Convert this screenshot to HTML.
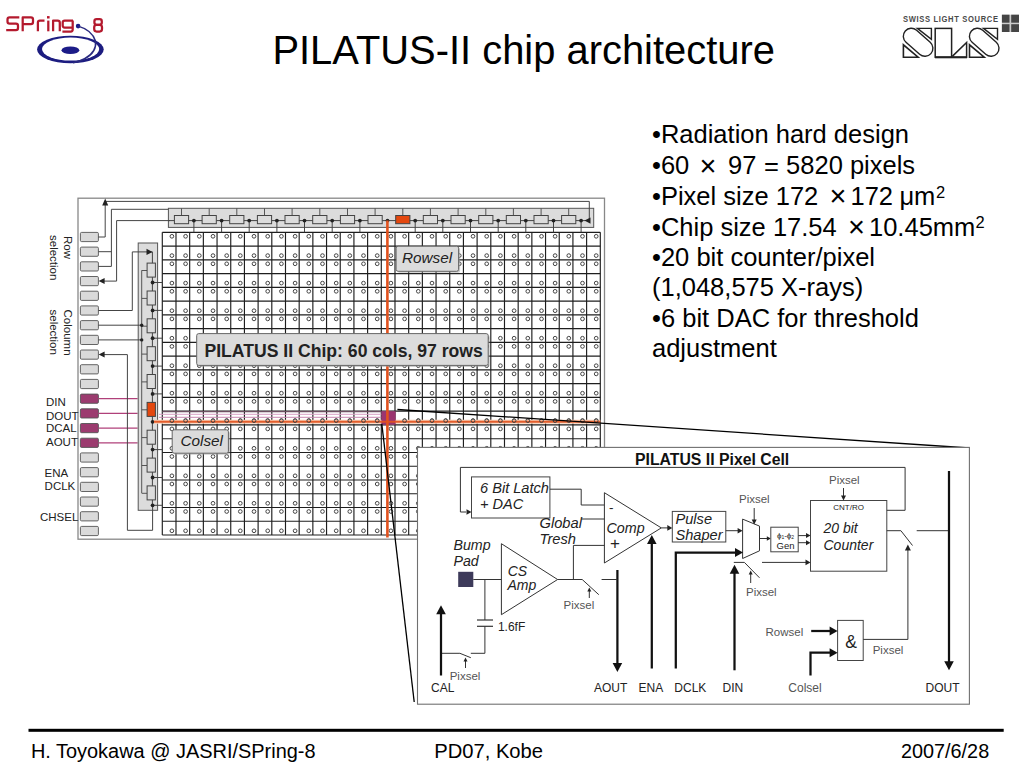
<!DOCTYPE html>
<html><head><meta charset="utf-8"><style>
html,body{margin:0;padding:0;background:#fff;}
body{width:1024px;height:768px;overflow:hidden;position:relative;}
svg{position:absolute;left:0;top:0;}
text{font-family:'Liberation Sans',sans-serif;}
</style></head><body>
<svg width="1024" height="768" viewBox="0 0 1024 768">

<!-- SPring-8 -->
<g fill="none" stroke="#B41A2E" stroke-width="2.25" stroke-linejoin="round" stroke-linecap="butt">
<path d="M19.3,17.4 H9.6 Q7.5,17.4 7.5,19.5 V21.6 Q7.5,23.7 9.6,23.7 H15.9 Q18,23.7 18,25.8 V27.9 Q18,30 15.9,30 H6.2"/>
<path d="M22.7,31.3 V17.4 H30.9 Q33,17.4 33,19.5 V21.9 Q33,24 30.9,24 H22.7"/>
<path d="M37.9,31.3 V22.6 Q37.9,20.6 39.9,20.6 H44.5"/>
<path d="M48.3,31.3 V20.6"/>
<path d="M53.1,31.3 V20.6 H57.7 Q59.8,20.6 59.8,22.7 V31.3"/>
<path d="M73,20.6 H64.7 Q62.7,20.6 62.7,22.6 V25.6 Q62.7,27.6 64.7,27.6 H72.9 M72.7,20.6 V29.6 Q72.7,31.6 70.7,31.6 H62.4"/>
<rect x="94.4" y="19.2" width="7.4" height="5.6" rx="2.2"/>
<rect x="94.2" y="24.8" width="7.8" height="6.7" rx="2.4"/>
</g>
<rect x="47" y="16.1" width="2.6" height="2.4" fill="#B8162C"/>
<ellipse cx="70.4" cy="49.5" rx="33.3" ry="13.7" fill="#1C1C80"/>
<ellipse cx="70.6" cy="49.1" rx="28.6" ry="11.5" fill="#fff"/>
<ellipse cx="70.4" cy="50.3" rx="8.9" ry="3.8" fill="#1C1C88"/>
<circle cx="78.1" cy="26.1" r="2.3" fill="#1C1C88"/>
<path d="M78.1,26.1 Q92,30 95.5,41 Q97,52 85,58.5 Q80,61.5 73,62.8" fill="none" stroke="#2A2A80" stroke-width="1.5"/>
<!-- SLS -->
<text transform="translate(903,22) scale(1,1.3)" x="0" y="0" font-size="7.6" font-weight="bold" fill="#4a4a4a" textLength="95" lengthAdjust="spacing">SWISS LIGHT SOURCE</text>
<rect x="1001.9" y="14.7" width="17.1" height="17.3" fill="#ccc"/>
<rect x="1001.9" y="14.7" width="7.6" height="8" fill="#454545"/>
<rect x="1011.2" y="14.7" width="7.8" height="8" fill="#454545"/>
<rect x="1001.9" y="24.2" width="7.6" height="7.8" fill="#454545"/>
<rect x="1011.2" y="24.2" width="7.8" height="7.8" fill="#454545"/>
<g id="slsS">
<line x1="911.3" y1="36.3" x2="924.9" y2="48.3" stroke="#222" stroke-width="17.4" stroke-linecap="round"/>
<line x1="911.3" y1="36.3" x2="924.9" y2="48.3" stroke="#fff" stroke-width="14.6" stroke-linecap="round"/>
<path d="M917.4,28.4 H931.4 V39.4 Z" fill="none" stroke="#222" stroke-width="1.4" stroke-linejoin="miter"/>
<path d="M903.4,44.8 V57.2 H918.1 Z" fill="none" stroke="#222" stroke-width="1.6"/>
</g>
<use href="#slsS" transform="translate(66.1,0)"/>
<rect x="935.2" y="28.4" width="16.4" height="28.8" fill="none" stroke="#222" stroke-width="1.5"/>
<path d="M952.3,56.4 L966.6,42.5 V57.2 H952.3" fill="none" stroke="#222" stroke-width="1.5"/>
<line x1="935" y1="57.3" x2="967" y2="57.3" stroke="#222" stroke-width="2"/>

<text x="272.4" y="63.7" font-size="39.9" fill="#000" font-weight="normal" font-style="normal" text-anchor="start" >PILATUS-II chip architecture</text>
<text x="652" y="143.4" font-size="25.5" fill="#000" font-weight="normal" font-style="normal" text-anchor="start" >•Radiation hard design</text>
<text x="652" y="174.3" font-size="25.5">•60<tspan x="699.4" font-size="29" dy="1.5">×</tspan><tspan x="728.1" dy="-1.5">97</tspan><tspan x="764.1" dy="0.8">=</tspan><tspan x="786.1" dy="-0.8">5820 pixels</tspan></text>
<text x="652" y="204.9" font-size="25.5">•Pixel size 172<tspan x="829.4" font-size="29" dy="1.5">×</tspan><tspan x="850.5" dy="-1.5">172</tspan><tspan x="899.4">μ</tspan><tspan x="914">m</tspan><tspan x="935.9" y="197.6" font-size="16.5">2</tspan></text>
<text x="652" y="235.5" font-size="25.5">•Chip size 17.54<tspan x="847.9" font-size="29" dy="1.5">×</tspan><tspan x="869" dy="-1.5">10.45mm</tspan><tspan x="975.4" y="228.4" font-size="16.5">2</tspan></text>
<text x="652" y="265.8" font-size="25.5" fill="#000" font-weight="normal" font-style="normal" text-anchor="start" >•20 bit counter/pixel</text>
<text x="652" y="296.4" font-size="25.5" fill="#000" font-weight="normal" font-style="normal" text-anchor="start" >(1,048,575 X-rays)</text>
<text x="652" y="327" font-size="25.5" fill="#000" font-weight="normal" font-style="normal" text-anchor="start" >•6 bit DAC for threshold</text>
<text x="652" y="357.2" font-size="25.5" fill="#000" font-weight="normal" font-style="normal" text-anchor="start" >adjustment</text>
<rect x="28.5" y="728.8" width="975.2" height="3" fill="#000"/>
<text x="30.9" y="758.4" font-size="19.95" fill="#000" font-weight="normal" font-style="normal" text-anchor="start" >H. Toyokawa @ JASRI/SPring-8</text>
<text x="434.2" y="758.2" font-size="20.2" fill="#000" font-weight="normal" font-style="normal" text-anchor="start" >PD07, Kobe</text>
<text x="900.9" y="758.2" font-size="19.85" fill="#000" font-weight="normal" font-style="normal" text-anchor="start" >2007/6/28</text>
<rect x="78" y="198.2" width="526.5" height="341" fill="none" stroke="#888" stroke-width="1.3"/>
<rect x="162.3" y="232.3" width="437.99999999999994" height="302.71999999999997" fill="#fff"/>
<g fill="none" stroke="#444" stroke-width="1.0"><circle cx="171.9" cy="236.3" r="1.85"/><circle cx="185.6" cy="236.3" r="1.85"/><circle cx="199.3" cy="236.3" r="1.85"/><circle cx="213.0" cy="236.3" r="1.85"/><circle cx="226.7" cy="236.3" r="1.85"/><circle cx="240.3" cy="236.3" r="1.85"/><circle cx="254.0" cy="236.3" r="1.85"/><circle cx="267.7" cy="236.3" r="1.85"/><circle cx="281.4" cy="236.3" r="1.85"/><circle cx="295.1" cy="236.3" r="1.85"/><circle cx="308.8" cy="236.3" r="1.85"/><circle cx="322.5" cy="236.3" r="1.85"/><circle cx="336.2" cy="236.3" r="1.85"/><circle cx="349.8" cy="236.3" r="1.85"/><circle cx="363.5" cy="236.3" r="1.85"/><circle cx="377.2" cy="236.3" r="1.85"/><circle cx="390.9" cy="236.3" r="1.85"/><circle cx="404.6" cy="236.3" r="1.85"/><circle cx="418.3" cy="236.3" r="1.85"/><circle cx="432.0" cy="236.3" r="1.85"/><circle cx="445.7" cy="236.3" r="1.85"/><circle cx="459.3" cy="236.3" r="1.85"/><circle cx="473.0" cy="236.3" r="1.85"/><circle cx="486.7" cy="236.3" r="1.85"/><circle cx="500.4" cy="236.3" r="1.85"/><circle cx="514.1" cy="236.3" r="1.85"/><circle cx="527.8" cy="236.3" r="1.85"/><circle cx="541.5" cy="236.3" r="1.85"/><circle cx="555.1" cy="236.3" r="1.85"/><circle cx="568.8" cy="236.3" r="1.85"/><circle cx="582.5" cy="236.3" r="1.85"/><circle cx="596.2" cy="236.3" r="1.85"/><circle cx="171.9" cy="255.6" r="1.85"/><circle cx="185.6" cy="255.6" r="1.85"/><circle cx="199.3" cy="255.6" r="1.85"/><circle cx="213.0" cy="255.6" r="1.85"/><circle cx="226.7" cy="255.6" r="1.85"/><circle cx="240.3" cy="255.6" r="1.85"/><circle cx="254.0" cy="255.6" r="1.85"/><circle cx="267.7" cy="255.6" r="1.85"/><circle cx="281.4" cy="255.6" r="1.85"/><circle cx="295.1" cy="255.6" r="1.85"/><circle cx="308.8" cy="255.6" r="1.85"/><circle cx="322.5" cy="255.6" r="1.85"/><circle cx="336.2" cy="255.6" r="1.85"/><circle cx="349.8" cy="255.6" r="1.85"/><circle cx="363.5" cy="255.6" r="1.85"/><circle cx="377.2" cy="255.6" r="1.85"/><circle cx="390.9" cy="255.6" r="1.85"/><circle cx="404.6" cy="255.6" r="1.85"/><circle cx="418.3" cy="255.6" r="1.85"/><circle cx="432.0" cy="255.6" r="1.85"/><circle cx="445.7" cy="255.6" r="1.85"/><circle cx="459.3" cy="255.6" r="1.85"/><circle cx="473.0" cy="255.6" r="1.85"/><circle cx="486.7" cy="255.6" r="1.85"/><circle cx="500.4" cy="255.6" r="1.85"/><circle cx="514.1" cy="255.6" r="1.85"/><circle cx="527.8" cy="255.6" r="1.85"/><circle cx="541.5" cy="255.6" r="1.85"/><circle cx="555.1" cy="255.6" r="1.85"/><circle cx="568.8" cy="255.6" r="1.85"/><circle cx="582.5" cy="255.6" r="1.85"/><circle cx="596.2" cy="255.6" r="1.85"/><circle cx="171.9" cy="263.8" r="1.85"/><circle cx="185.6" cy="263.8" r="1.85"/><circle cx="199.3" cy="263.8" r="1.85"/><circle cx="213.0" cy="263.8" r="1.85"/><circle cx="226.7" cy="263.8" r="1.85"/><circle cx="240.3" cy="263.8" r="1.85"/><circle cx="254.0" cy="263.8" r="1.85"/><circle cx="267.7" cy="263.8" r="1.85"/><circle cx="281.4" cy="263.8" r="1.85"/><circle cx="295.1" cy="263.8" r="1.85"/><circle cx="308.8" cy="263.8" r="1.85"/><circle cx="322.5" cy="263.8" r="1.85"/><circle cx="336.2" cy="263.8" r="1.85"/><circle cx="349.8" cy="263.8" r="1.85"/><circle cx="363.5" cy="263.8" r="1.85"/><circle cx="377.2" cy="263.8" r="1.85"/><circle cx="390.9" cy="263.8" r="1.85"/><circle cx="404.6" cy="263.8" r="1.85"/><circle cx="418.3" cy="263.8" r="1.85"/><circle cx="432.0" cy="263.8" r="1.85"/><circle cx="445.7" cy="263.8" r="1.85"/><circle cx="459.3" cy="263.8" r="1.85"/><circle cx="473.0" cy="263.8" r="1.85"/><circle cx="486.7" cy="263.8" r="1.85"/><circle cx="500.4" cy="263.8" r="1.85"/><circle cx="514.1" cy="263.8" r="1.85"/><circle cx="527.8" cy="263.8" r="1.85"/><circle cx="541.5" cy="263.8" r="1.85"/><circle cx="555.1" cy="263.8" r="1.85"/><circle cx="568.8" cy="263.8" r="1.85"/><circle cx="582.5" cy="263.8" r="1.85"/><circle cx="596.2" cy="263.8" r="1.85"/><circle cx="171.9" cy="283.1" r="1.85"/><circle cx="185.6" cy="283.1" r="1.85"/><circle cx="199.3" cy="283.1" r="1.85"/><circle cx="213.0" cy="283.1" r="1.85"/><circle cx="226.7" cy="283.1" r="1.85"/><circle cx="240.3" cy="283.1" r="1.85"/><circle cx="254.0" cy="283.1" r="1.85"/><circle cx="267.7" cy="283.1" r="1.85"/><circle cx="281.4" cy="283.1" r="1.85"/><circle cx="295.1" cy="283.1" r="1.85"/><circle cx="308.8" cy="283.1" r="1.85"/><circle cx="322.5" cy="283.1" r="1.85"/><circle cx="336.2" cy="283.1" r="1.85"/><circle cx="349.8" cy="283.1" r="1.85"/><circle cx="363.5" cy="283.1" r="1.85"/><circle cx="377.2" cy="283.1" r="1.85"/><circle cx="390.9" cy="283.1" r="1.85"/><circle cx="404.6" cy="283.1" r="1.85"/><circle cx="418.3" cy="283.1" r="1.85"/><circle cx="432.0" cy="283.1" r="1.85"/><circle cx="445.7" cy="283.1" r="1.85"/><circle cx="459.3" cy="283.1" r="1.85"/><circle cx="473.0" cy="283.1" r="1.85"/><circle cx="486.7" cy="283.1" r="1.85"/><circle cx="500.4" cy="283.1" r="1.85"/><circle cx="514.1" cy="283.1" r="1.85"/><circle cx="527.8" cy="283.1" r="1.85"/><circle cx="541.5" cy="283.1" r="1.85"/><circle cx="555.1" cy="283.1" r="1.85"/><circle cx="568.8" cy="283.1" r="1.85"/><circle cx="582.5" cy="283.1" r="1.85"/><circle cx="596.2" cy="283.1" r="1.85"/><circle cx="171.9" cy="291.3" r="1.85"/><circle cx="185.6" cy="291.3" r="1.85"/><circle cx="199.3" cy="291.3" r="1.85"/><circle cx="213.0" cy="291.3" r="1.85"/><circle cx="226.7" cy="291.3" r="1.85"/><circle cx="240.3" cy="291.3" r="1.85"/><circle cx="254.0" cy="291.3" r="1.85"/><circle cx="267.7" cy="291.3" r="1.85"/><circle cx="281.4" cy="291.3" r="1.85"/><circle cx="295.1" cy="291.3" r="1.85"/><circle cx="308.8" cy="291.3" r="1.85"/><circle cx="322.5" cy="291.3" r="1.85"/><circle cx="336.2" cy="291.3" r="1.85"/><circle cx="349.8" cy="291.3" r="1.85"/><circle cx="363.5" cy="291.3" r="1.85"/><circle cx="377.2" cy="291.3" r="1.85"/><circle cx="390.9" cy="291.3" r="1.85"/><circle cx="404.6" cy="291.3" r="1.85"/><circle cx="418.3" cy="291.3" r="1.85"/><circle cx="432.0" cy="291.3" r="1.85"/><circle cx="445.7" cy="291.3" r="1.85"/><circle cx="459.3" cy="291.3" r="1.85"/><circle cx="473.0" cy="291.3" r="1.85"/><circle cx="486.7" cy="291.3" r="1.85"/><circle cx="500.4" cy="291.3" r="1.85"/><circle cx="514.1" cy="291.3" r="1.85"/><circle cx="527.8" cy="291.3" r="1.85"/><circle cx="541.5" cy="291.3" r="1.85"/><circle cx="555.1" cy="291.3" r="1.85"/><circle cx="568.8" cy="291.3" r="1.85"/><circle cx="582.5" cy="291.3" r="1.85"/><circle cx="596.2" cy="291.3" r="1.85"/><circle cx="171.9" cy="310.7" r="1.85"/><circle cx="185.6" cy="310.7" r="1.85"/><circle cx="199.3" cy="310.7" r="1.85"/><circle cx="213.0" cy="310.7" r="1.85"/><circle cx="226.7" cy="310.7" r="1.85"/><circle cx="240.3" cy="310.7" r="1.85"/><circle cx="254.0" cy="310.7" r="1.85"/><circle cx="267.7" cy="310.7" r="1.85"/><circle cx="281.4" cy="310.7" r="1.85"/><circle cx="295.1" cy="310.7" r="1.85"/><circle cx="308.8" cy="310.7" r="1.85"/><circle cx="322.5" cy="310.7" r="1.85"/><circle cx="336.2" cy="310.7" r="1.85"/><circle cx="349.8" cy="310.7" r="1.85"/><circle cx="363.5" cy="310.7" r="1.85"/><circle cx="377.2" cy="310.7" r="1.85"/><circle cx="390.9" cy="310.7" r="1.85"/><circle cx="404.6" cy="310.7" r="1.85"/><circle cx="418.3" cy="310.7" r="1.85"/><circle cx="432.0" cy="310.7" r="1.85"/><circle cx="445.7" cy="310.7" r="1.85"/><circle cx="459.3" cy="310.7" r="1.85"/><circle cx="473.0" cy="310.7" r="1.85"/><circle cx="486.7" cy="310.7" r="1.85"/><circle cx="500.4" cy="310.7" r="1.85"/><circle cx="514.1" cy="310.7" r="1.85"/><circle cx="527.8" cy="310.7" r="1.85"/><circle cx="541.5" cy="310.7" r="1.85"/><circle cx="555.1" cy="310.7" r="1.85"/><circle cx="568.8" cy="310.7" r="1.85"/><circle cx="582.5" cy="310.7" r="1.85"/><circle cx="596.2" cy="310.7" r="1.85"/><circle cx="171.9" cy="318.9" r="1.85"/><circle cx="185.6" cy="318.9" r="1.85"/><circle cx="199.3" cy="318.9" r="1.85"/><circle cx="213.0" cy="318.9" r="1.85"/><circle cx="226.7" cy="318.9" r="1.85"/><circle cx="240.3" cy="318.9" r="1.85"/><circle cx="254.0" cy="318.9" r="1.85"/><circle cx="267.7" cy="318.9" r="1.85"/><circle cx="281.4" cy="318.9" r="1.85"/><circle cx="295.1" cy="318.9" r="1.85"/><circle cx="308.8" cy="318.9" r="1.85"/><circle cx="322.5" cy="318.9" r="1.85"/><circle cx="336.2" cy="318.9" r="1.85"/><circle cx="349.8" cy="318.9" r="1.85"/><circle cx="363.5" cy="318.9" r="1.85"/><circle cx="377.2" cy="318.9" r="1.85"/><circle cx="390.9" cy="318.9" r="1.85"/><circle cx="404.6" cy="318.9" r="1.85"/><circle cx="418.3" cy="318.9" r="1.85"/><circle cx="432.0" cy="318.9" r="1.85"/><circle cx="445.7" cy="318.9" r="1.85"/><circle cx="459.3" cy="318.9" r="1.85"/><circle cx="473.0" cy="318.9" r="1.85"/><circle cx="486.7" cy="318.9" r="1.85"/><circle cx="500.4" cy="318.9" r="1.85"/><circle cx="514.1" cy="318.9" r="1.85"/><circle cx="527.8" cy="318.9" r="1.85"/><circle cx="541.5" cy="318.9" r="1.85"/><circle cx="555.1" cy="318.9" r="1.85"/><circle cx="568.8" cy="318.9" r="1.85"/><circle cx="582.5" cy="318.9" r="1.85"/><circle cx="596.2" cy="318.9" r="1.85"/><circle cx="171.9" cy="338.2" r="1.85"/><circle cx="185.6" cy="338.2" r="1.85"/><circle cx="199.3" cy="338.2" r="1.85"/><circle cx="213.0" cy="338.2" r="1.85"/><circle cx="226.7" cy="338.2" r="1.85"/><circle cx="240.3" cy="338.2" r="1.85"/><circle cx="254.0" cy="338.2" r="1.85"/><circle cx="267.7" cy="338.2" r="1.85"/><circle cx="281.4" cy="338.2" r="1.85"/><circle cx="295.1" cy="338.2" r="1.85"/><circle cx="308.8" cy="338.2" r="1.85"/><circle cx="322.5" cy="338.2" r="1.85"/><circle cx="336.2" cy="338.2" r="1.85"/><circle cx="349.8" cy="338.2" r="1.85"/><circle cx="363.5" cy="338.2" r="1.85"/><circle cx="377.2" cy="338.2" r="1.85"/><circle cx="390.9" cy="338.2" r="1.85"/><circle cx="404.6" cy="338.2" r="1.85"/><circle cx="418.3" cy="338.2" r="1.85"/><circle cx="432.0" cy="338.2" r="1.85"/><circle cx="445.7" cy="338.2" r="1.85"/><circle cx="459.3" cy="338.2" r="1.85"/><circle cx="473.0" cy="338.2" r="1.85"/><circle cx="486.7" cy="338.2" r="1.85"/><circle cx="500.4" cy="338.2" r="1.85"/><circle cx="514.1" cy="338.2" r="1.85"/><circle cx="527.8" cy="338.2" r="1.85"/><circle cx="541.5" cy="338.2" r="1.85"/><circle cx="555.1" cy="338.2" r="1.85"/><circle cx="568.8" cy="338.2" r="1.85"/><circle cx="582.5" cy="338.2" r="1.85"/><circle cx="596.2" cy="338.2" r="1.85"/><circle cx="171.9" cy="346.4" r="1.85"/><circle cx="185.6" cy="346.4" r="1.85"/><circle cx="199.3" cy="346.4" r="1.85"/><circle cx="213.0" cy="346.4" r="1.85"/><circle cx="226.7" cy="346.4" r="1.85"/><circle cx="240.3" cy="346.4" r="1.85"/><circle cx="254.0" cy="346.4" r="1.85"/><circle cx="267.7" cy="346.4" r="1.85"/><circle cx="281.4" cy="346.4" r="1.85"/><circle cx="295.1" cy="346.4" r="1.85"/><circle cx="308.8" cy="346.4" r="1.85"/><circle cx="322.5" cy="346.4" r="1.85"/><circle cx="336.2" cy="346.4" r="1.85"/><circle cx="349.8" cy="346.4" r="1.85"/><circle cx="363.5" cy="346.4" r="1.85"/><circle cx="377.2" cy="346.4" r="1.85"/><circle cx="390.9" cy="346.4" r="1.85"/><circle cx="404.6" cy="346.4" r="1.85"/><circle cx="418.3" cy="346.4" r="1.85"/><circle cx="432.0" cy="346.4" r="1.85"/><circle cx="445.7" cy="346.4" r="1.85"/><circle cx="459.3" cy="346.4" r="1.85"/><circle cx="473.0" cy="346.4" r="1.85"/><circle cx="486.7" cy="346.4" r="1.85"/><circle cx="500.4" cy="346.4" r="1.85"/><circle cx="514.1" cy="346.4" r="1.85"/><circle cx="527.8" cy="346.4" r="1.85"/><circle cx="541.5" cy="346.4" r="1.85"/><circle cx="555.1" cy="346.4" r="1.85"/><circle cx="568.8" cy="346.4" r="1.85"/><circle cx="582.5" cy="346.4" r="1.85"/><circle cx="596.2" cy="346.4" r="1.85"/><circle cx="171.9" cy="365.7" r="1.85"/><circle cx="185.6" cy="365.7" r="1.85"/><circle cx="199.3" cy="365.7" r="1.85"/><circle cx="213.0" cy="365.7" r="1.85"/><circle cx="226.7" cy="365.7" r="1.85"/><circle cx="240.3" cy="365.7" r="1.85"/><circle cx="254.0" cy="365.7" r="1.85"/><circle cx="267.7" cy="365.7" r="1.85"/><circle cx="281.4" cy="365.7" r="1.85"/><circle cx="295.1" cy="365.7" r="1.85"/><circle cx="308.8" cy="365.7" r="1.85"/><circle cx="322.5" cy="365.7" r="1.85"/><circle cx="336.2" cy="365.7" r="1.85"/><circle cx="349.8" cy="365.7" r="1.85"/><circle cx="363.5" cy="365.7" r="1.85"/><circle cx="377.2" cy="365.7" r="1.85"/><circle cx="390.9" cy="365.7" r="1.85"/><circle cx="404.6" cy="365.7" r="1.85"/><circle cx="418.3" cy="365.7" r="1.85"/><circle cx="432.0" cy="365.7" r="1.85"/><circle cx="445.7" cy="365.7" r="1.85"/><circle cx="459.3" cy="365.7" r="1.85"/><circle cx="473.0" cy="365.7" r="1.85"/><circle cx="486.7" cy="365.7" r="1.85"/><circle cx="500.4" cy="365.7" r="1.85"/><circle cx="514.1" cy="365.7" r="1.85"/><circle cx="527.8" cy="365.7" r="1.85"/><circle cx="541.5" cy="365.7" r="1.85"/><circle cx="555.1" cy="365.7" r="1.85"/><circle cx="568.8" cy="365.7" r="1.85"/><circle cx="582.5" cy="365.7" r="1.85"/><circle cx="596.2" cy="365.7" r="1.85"/><circle cx="171.9" cy="373.9" r="1.85"/><circle cx="185.6" cy="373.9" r="1.85"/><circle cx="199.3" cy="373.9" r="1.85"/><circle cx="213.0" cy="373.9" r="1.85"/><circle cx="226.7" cy="373.9" r="1.85"/><circle cx="240.3" cy="373.9" r="1.85"/><circle cx="254.0" cy="373.9" r="1.85"/><circle cx="267.7" cy="373.9" r="1.85"/><circle cx="281.4" cy="373.9" r="1.85"/><circle cx="295.1" cy="373.9" r="1.85"/><circle cx="308.8" cy="373.9" r="1.85"/><circle cx="322.5" cy="373.9" r="1.85"/><circle cx="336.2" cy="373.9" r="1.85"/><circle cx="349.8" cy="373.9" r="1.85"/><circle cx="363.5" cy="373.9" r="1.85"/><circle cx="377.2" cy="373.9" r="1.85"/><circle cx="390.9" cy="373.9" r="1.85"/><circle cx="404.6" cy="373.9" r="1.85"/><circle cx="418.3" cy="373.9" r="1.85"/><circle cx="432.0" cy="373.9" r="1.85"/><circle cx="445.7" cy="373.9" r="1.85"/><circle cx="459.3" cy="373.9" r="1.85"/><circle cx="473.0" cy="373.9" r="1.85"/><circle cx="486.7" cy="373.9" r="1.85"/><circle cx="500.4" cy="373.9" r="1.85"/><circle cx="514.1" cy="373.9" r="1.85"/><circle cx="527.8" cy="373.9" r="1.85"/><circle cx="541.5" cy="373.9" r="1.85"/><circle cx="555.1" cy="373.9" r="1.85"/><circle cx="568.8" cy="373.9" r="1.85"/><circle cx="582.5" cy="373.9" r="1.85"/><circle cx="596.2" cy="373.9" r="1.85"/><circle cx="171.9" cy="393.2" r="1.85"/><circle cx="185.6" cy="393.2" r="1.85"/><circle cx="199.3" cy="393.2" r="1.85"/><circle cx="213.0" cy="393.2" r="1.85"/><circle cx="226.7" cy="393.2" r="1.85"/><circle cx="240.3" cy="393.2" r="1.85"/><circle cx="254.0" cy="393.2" r="1.85"/><circle cx="267.7" cy="393.2" r="1.85"/><circle cx="281.4" cy="393.2" r="1.85"/><circle cx="295.1" cy="393.2" r="1.85"/><circle cx="308.8" cy="393.2" r="1.85"/><circle cx="322.5" cy="393.2" r="1.85"/><circle cx="336.2" cy="393.2" r="1.85"/><circle cx="349.8" cy="393.2" r="1.85"/><circle cx="363.5" cy="393.2" r="1.85"/><circle cx="377.2" cy="393.2" r="1.85"/><circle cx="390.9" cy="393.2" r="1.85"/><circle cx="404.6" cy="393.2" r="1.85"/><circle cx="418.3" cy="393.2" r="1.85"/><circle cx="432.0" cy="393.2" r="1.85"/><circle cx="445.7" cy="393.2" r="1.85"/><circle cx="459.3" cy="393.2" r="1.85"/><circle cx="473.0" cy="393.2" r="1.85"/><circle cx="486.7" cy="393.2" r="1.85"/><circle cx="500.4" cy="393.2" r="1.85"/><circle cx="514.1" cy="393.2" r="1.85"/><circle cx="527.8" cy="393.2" r="1.85"/><circle cx="541.5" cy="393.2" r="1.85"/><circle cx="555.1" cy="393.2" r="1.85"/><circle cx="568.8" cy="393.2" r="1.85"/><circle cx="582.5" cy="393.2" r="1.85"/><circle cx="596.2" cy="393.2" r="1.85"/><circle cx="171.9" cy="401.4" r="1.85"/><circle cx="185.6" cy="401.4" r="1.85"/><circle cx="199.3" cy="401.4" r="1.85"/><circle cx="213.0" cy="401.4" r="1.85"/><circle cx="226.7" cy="401.4" r="1.85"/><circle cx="240.3" cy="401.4" r="1.85"/><circle cx="254.0" cy="401.4" r="1.85"/><circle cx="267.7" cy="401.4" r="1.85"/><circle cx="281.4" cy="401.4" r="1.85"/><circle cx="295.1" cy="401.4" r="1.85"/><circle cx="308.8" cy="401.4" r="1.85"/><circle cx="322.5" cy="401.4" r="1.85"/><circle cx="336.2" cy="401.4" r="1.85"/><circle cx="349.8" cy="401.4" r="1.85"/><circle cx="363.5" cy="401.4" r="1.85"/><circle cx="377.2" cy="401.4" r="1.85"/><circle cx="390.9" cy="401.4" r="1.85"/><circle cx="404.6" cy="401.4" r="1.85"/><circle cx="418.3" cy="401.4" r="1.85"/><circle cx="432.0" cy="401.4" r="1.85"/><circle cx="445.7" cy="401.4" r="1.85"/><circle cx="459.3" cy="401.4" r="1.85"/><circle cx="473.0" cy="401.4" r="1.85"/><circle cx="486.7" cy="401.4" r="1.85"/><circle cx="500.4" cy="401.4" r="1.85"/><circle cx="514.1" cy="401.4" r="1.85"/><circle cx="527.8" cy="401.4" r="1.85"/><circle cx="541.5" cy="401.4" r="1.85"/><circle cx="555.1" cy="401.4" r="1.85"/><circle cx="568.8" cy="401.4" r="1.85"/><circle cx="582.5" cy="401.4" r="1.85"/><circle cx="596.2" cy="401.4" r="1.85"/><circle cx="171.9" cy="420.7" r="1.85"/><circle cx="185.6" cy="420.7" r="1.85"/><circle cx="199.3" cy="420.7" r="1.85"/><circle cx="213.0" cy="420.7" r="1.85"/><circle cx="226.7" cy="420.7" r="1.85"/><circle cx="240.3" cy="420.7" r="1.85"/><circle cx="254.0" cy="420.7" r="1.85"/><circle cx="267.7" cy="420.7" r="1.85"/><circle cx="281.4" cy="420.7" r="1.85"/><circle cx="295.1" cy="420.7" r="1.85"/><circle cx="308.8" cy="420.7" r="1.85"/><circle cx="322.5" cy="420.7" r="1.85"/><circle cx="336.2" cy="420.7" r="1.85"/><circle cx="349.8" cy="420.7" r="1.85"/><circle cx="363.5" cy="420.7" r="1.85"/><circle cx="377.2" cy="420.7" r="1.85"/><circle cx="390.9" cy="420.7" r="1.85"/><circle cx="404.6" cy="420.7" r="1.85"/><circle cx="418.3" cy="420.7" r="1.85"/><circle cx="432.0" cy="420.7" r="1.85"/><circle cx="445.7" cy="420.7" r="1.85"/><circle cx="459.3" cy="420.7" r="1.85"/><circle cx="473.0" cy="420.7" r="1.85"/><circle cx="486.7" cy="420.7" r="1.85"/><circle cx="500.4" cy="420.7" r="1.85"/><circle cx="514.1" cy="420.7" r="1.85"/><circle cx="527.8" cy="420.7" r="1.85"/><circle cx="541.5" cy="420.7" r="1.85"/><circle cx="555.1" cy="420.7" r="1.85"/><circle cx="568.8" cy="420.7" r="1.85"/><circle cx="582.5" cy="420.7" r="1.85"/><circle cx="596.2" cy="420.7" r="1.85"/><circle cx="171.9" cy="428.9" r="1.85"/><circle cx="185.6" cy="428.9" r="1.85"/><circle cx="199.3" cy="428.9" r="1.85"/><circle cx="213.0" cy="428.9" r="1.85"/><circle cx="226.7" cy="428.9" r="1.85"/><circle cx="240.3" cy="428.9" r="1.85"/><circle cx="254.0" cy="428.9" r="1.85"/><circle cx="267.7" cy="428.9" r="1.85"/><circle cx="281.4" cy="428.9" r="1.85"/><circle cx="295.1" cy="428.9" r="1.85"/><circle cx="308.8" cy="428.9" r="1.85"/><circle cx="322.5" cy="428.9" r="1.85"/><circle cx="336.2" cy="428.9" r="1.85"/><circle cx="349.8" cy="428.9" r="1.85"/><circle cx="363.5" cy="428.9" r="1.85"/><circle cx="377.2" cy="428.9" r="1.85"/><circle cx="390.9" cy="428.9" r="1.85"/><circle cx="404.6" cy="428.9" r="1.85"/><circle cx="418.3" cy="428.9" r="1.85"/><circle cx="432.0" cy="428.9" r="1.85"/><circle cx="445.7" cy="428.9" r="1.85"/><circle cx="459.3" cy="428.9" r="1.85"/><circle cx="473.0" cy="428.9" r="1.85"/><circle cx="486.7" cy="428.9" r="1.85"/><circle cx="500.4" cy="428.9" r="1.85"/><circle cx="514.1" cy="428.9" r="1.85"/><circle cx="527.8" cy="428.9" r="1.85"/><circle cx="541.5" cy="428.9" r="1.85"/><circle cx="555.1" cy="428.9" r="1.85"/><circle cx="568.8" cy="428.9" r="1.85"/><circle cx="582.5" cy="428.9" r="1.85"/><circle cx="596.2" cy="428.9" r="1.85"/><circle cx="171.9" cy="448.3" r="1.85"/><circle cx="185.6" cy="448.3" r="1.85"/><circle cx="199.3" cy="448.3" r="1.85"/><circle cx="213.0" cy="448.3" r="1.85"/><circle cx="226.7" cy="448.3" r="1.85"/><circle cx="240.3" cy="448.3" r="1.85"/><circle cx="254.0" cy="448.3" r="1.85"/><circle cx="267.7" cy="448.3" r="1.85"/><circle cx="281.4" cy="448.3" r="1.85"/><circle cx="295.1" cy="448.3" r="1.85"/><circle cx="308.8" cy="448.3" r="1.85"/><circle cx="322.5" cy="448.3" r="1.85"/><circle cx="336.2" cy="448.3" r="1.85"/><circle cx="349.8" cy="448.3" r="1.85"/><circle cx="363.5" cy="448.3" r="1.85"/><circle cx="377.2" cy="448.3" r="1.85"/><circle cx="390.9" cy="448.3" r="1.85"/><circle cx="404.6" cy="448.3" r="1.85"/><circle cx="418.3" cy="448.3" r="1.85"/><circle cx="432.0" cy="448.3" r="1.85"/><circle cx="445.7" cy="448.3" r="1.85"/><circle cx="459.3" cy="448.3" r="1.85"/><circle cx="473.0" cy="448.3" r="1.85"/><circle cx="486.7" cy="448.3" r="1.85"/><circle cx="500.4" cy="448.3" r="1.85"/><circle cx="514.1" cy="448.3" r="1.85"/><circle cx="527.8" cy="448.3" r="1.85"/><circle cx="541.5" cy="448.3" r="1.85"/><circle cx="555.1" cy="448.3" r="1.85"/><circle cx="568.8" cy="448.3" r="1.85"/><circle cx="582.5" cy="448.3" r="1.85"/><circle cx="596.2" cy="448.3" r="1.85"/><circle cx="171.9" cy="456.5" r="1.85"/><circle cx="185.6" cy="456.5" r="1.85"/><circle cx="199.3" cy="456.5" r="1.85"/><circle cx="213.0" cy="456.5" r="1.85"/><circle cx="226.7" cy="456.5" r="1.85"/><circle cx="240.3" cy="456.5" r="1.85"/><circle cx="254.0" cy="456.5" r="1.85"/><circle cx="267.7" cy="456.5" r="1.85"/><circle cx="281.4" cy="456.5" r="1.85"/><circle cx="295.1" cy="456.5" r="1.85"/><circle cx="308.8" cy="456.5" r="1.85"/><circle cx="322.5" cy="456.5" r="1.85"/><circle cx="336.2" cy="456.5" r="1.85"/><circle cx="349.8" cy="456.5" r="1.85"/><circle cx="363.5" cy="456.5" r="1.85"/><circle cx="377.2" cy="456.5" r="1.85"/><circle cx="390.9" cy="456.5" r="1.85"/><circle cx="404.6" cy="456.5" r="1.85"/><circle cx="418.3" cy="456.5" r="1.85"/><circle cx="432.0" cy="456.5" r="1.85"/><circle cx="445.7" cy="456.5" r="1.85"/><circle cx="459.3" cy="456.5" r="1.85"/><circle cx="473.0" cy="456.5" r="1.85"/><circle cx="486.7" cy="456.5" r="1.85"/><circle cx="500.4" cy="456.5" r="1.85"/><circle cx="514.1" cy="456.5" r="1.85"/><circle cx="527.8" cy="456.5" r="1.85"/><circle cx="541.5" cy="456.5" r="1.85"/><circle cx="555.1" cy="456.5" r="1.85"/><circle cx="568.8" cy="456.5" r="1.85"/><circle cx="582.5" cy="456.5" r="1.85"/><circle cx="596.2" cy="456.5" r="1.85"/><circle cx="171.9" cy="475.8" r="1.85"/><circle cx="185.6" cy="475.8" r="1.85"/><circle cx="199.3" cy="475.8" r="1.85"/><circle cx="213.0" cy="475.8" r="1.85"/><circle cx="226.7" cy="475.8" r="1.85"/><circle cx="240.3" cy="475.8" r="1.85"/><circle cx="254.0" cy="475.8" r="1.85"/><circle cx="267.7" cy="475.8" r="1.85"/><circle cx="281.4" cy="475.8" r="1.85"/><circle cx="295.1" cy="475.8" r="1.85"/><circle cx="308.8" cy="475.8" r="1.85"/><circle cx="322.5" cy="475.8" r="1.85"/><circle cx="336.2" cy="475.8" r="1.85"/><circle cx="349.8" cy="475.8" r="1.85"/><circle cx="363.5" cy="475.8" r="1.85"/><circle cx="377.2" cy="475.8" r="1.85"/><circle cx="390.9" cy="475.8" r="1.85"/><circle cx="404.6" cy="475.8" r="1.85"/><circle cx="418.3" cy="475.8" r="1.85"/><circle cx="432.0" cy="475.8" r="1.85"/><circle cx="445.7" cy="475.8" r="1.85"/><circle cx="459.3" cy="475.8" r="1.85"/><circle cx="473.0" cy="475.8" r="1.85"/><circle cx="486.7" cy="475.8" r="1.85"/><circle cx="500.4" cy="475.8" r="1.85"/><circle cx="514.1" cy="475.8" r="1.85"/><circle cx="527.8" cy="475.8" r="1.85"/><circle cx="541.5" cy="475.8" r="1.85"/><circle cx="555.1" cy="475.8" r="1.85"/><circle cx="568.8" cy="475.8" r="1.85"/><circle cx="582.5" cy="475.8" r="1.85"/><circle cx="596.2" cy="475.8" r="1.85"/><circle cx="171.9" cy="484.0" r="1.85"/><circle cx="185.6" cy="484.0" r="1.85"/><circle cx="199.3" cy="484.0" r="1.85"/><circle cx="213.0" cy="484.0" r="1.85"/><circle cx="226.7" cy="484.0" r="1.85"/><circle cx="240.3" cy="484.0" r="1.85"/><circle cx="254.0" cy="484.0" r="1.85"/><circle cx="267.7" cy="484.0" r="1.85"/><circle cx="281.4" cy="484.0" r="1.85"/><circle cx="295.1" cy="484.0" r="1.85"/><circle cx="308.8" cy="484.0" r="1.85"/><circle cx="322.5" cy="484.0" r="1.85"/><circle cx="336.2" cy="484.0" r="1.85"/><circle cx="349.8" cy="484.0" r="1.85"/><circle cx="363.5" cy="484.0" r="1.85"/><circle cx="377.2" cy="484.0" r="1.85"/><circle cx="390.9" cy="484.0" r="1.85"/><circle cx="404.6" cy="484.0" r="1.85"/><circle cx="418.3" cy="484.0" r="1.85"/><circle cx="432.0" cy="484.0" r="1.85"/><circle cx="445.7" cy="484.0" r="1.85"/><circle cx="459.3" cy="484.0" r="1.85"/><circle cx="473.0" cy="484.0" r="1.85"/><circle cx="486.7" cy="484.0" r="1.85"/><circle cx="500.4" cy="484.0" r="1.85"/><circle cx="514.1" cy="484.0" r="1.85"/><circle cx="527.8" cy="484.0" r="1.85"/><circle cx="541.5" cy="484.0" r="1.85"/><circle cx="555.1" cy="484.0" r="1.85"/><circle cx="568.8" cy="484.0" r="1.85"/><circle cx="582.5" cy="484.0" r="1.85"/><circle cx="596.2" cy="484.0" r="1.85"/><circle cx="171.9" cy="503.3" r="1.85"/><circle cx="185.6" cy="503.3" r="1.85"/><circle cx="199.3" cy="503.3" r="1.85"/><circle cx="213.0" cy="503.3" r="1.85"/><circle cx="226.7" cy="503.3" r="1.85"/><circle cx="240.3" cy="503.3" r="1.85"/><circle cx="254.0" cy="503.3" r="1.85"/><circle cx="267.7" cy="503.3" r="1.85"/><circle cx="281.4" cy="503.3" r="1.85"/><circle cx="295.1" cy="503.3" r="1.85"/><circle cx="308.8" cy="503.3" r="1.85"/><circle cx="322.5" cy="503.3" r="1.85"/><circle cx="336.2" cy="503.3" r="1.85"/><circle cx="349.8" cy="503.3" r="1.85"/><circle cx="363.5" cy="503.3" r="1.85"/><circle cx="377.2" cy="503.3" r="1.85"/><circle cx="390.9" cy="503.3" r="1.85"/><circle cx="404.6" cy="503.3" r="1.85"/><circle cx="418.3" cy="503.3" r="1.85"/><circle cx="432.0" cy="503.3" r="1.85"/><circle cx="445.7" cy="503.3" r="1.85"/><circle cx="459.3" cy="503.3" r="1.85"/><circle cx="473.0" cy="503.3" r="1.85"/><circle cx="486.7" cy="503.3" r="1.85"/><circle cx="500.4" cy="503.3" r="1.85"/><circle cx="514.1" cy="503.3" r="1.85"/><circle cx="527.8" cy="503.3" r="1.85"/><circle cx="541.5" cy="503.3" r="1.85"/><circle cx="555.1" cy="503.3" r="1.85"/><circle cx="568.8" cy="503.3" r="1.85"/><circle cx="582.5" cy="503.3" r="1.85"/><circle cx="596.2" cy="503.3" r="1.85"/><circle cx="171.9" cy="511.5" r="1.85"/><circle cx="185.6" cy="511.5" r="1.85"/><circle cx="199.3" cy="511.5" r="1.85"/><circle cx="213.0" cy="511.5" r="1.85"/><circle cx="226.7" cy="511.5" r="1.85"/><circle cx="240.3" cy="511.5" r="1.85"/><circle cx="254.0" cy="511.5" r="1.85"/><circle cx="267.7" cy="511.5" r="1.85"/><circle cx="281.4" cy="511.5" r="1.85"/><circle cx="295.1" cy="511.5" r="1.85"/><circle cx="308.8" cy="511.5" r="1.85"/><circle cx="322.5" cy="511.5" r="1.85"/><circle cx="336.2" cy="511.5" r="1.85"/><circle cx="349.8" cy="511.5" r="1.85"/><circle cx="363.5" cy="511.5" r="1.85"/><circle cx="377.2" cy="511.5" r="1.85"/><circle cx="390.9" cy="511.5" r="1.85"/><circle cx="404.6" cy="511.5" r="1.85"/><circle cx="418.3" cy="511.5" r="1.85"/><circle cx="432.0" cy="511.5" r="1.85"/><circle cx="445.7" cy="511.5" r="1.85"/><circle cx="459.3" cy="511.5" r="1.85"/><circle cx="473.0" cy="511.5" r="1.85"/><circle cx="486.7" cy="511.5" r="1.85"/><circle cx="500.4" cy="511.5" r="1.85"/><circle cx="514.1" cy="511.5" r="1.85"/><circle cx="527.8" cy="511.5" r="1.85"/><circle cx="541.5" cy="511.5" r="1.85"/><circle cx="555.1" cy="511.5" r="1.85"/><circle cx="568.8" cy="511.5" r="1.85"/><circle cx="582.5" cy="511.5" r="1.85"/><circle cx="596.2" cy="511.5" r="1.85"/><circle cx="171.9" cy="530.8" r="1.85"/><circle cx="185.6" cy="530.8" r="1.85"/><circle cx="199.3" cy="530.8" r="1.85"/><circle cx="213.0" cy="530.8" r="1.85"/><circle cx="226.7" cy="530.8" r="1.85"/><circle cx="240.3" cy="530.8" r="1.85"/><circle cx="254.0" cy="530.8" r="1.85"/><circle cx="267.7" cy="530.8" r="1.85"/><circle cx="281.4" cy="530.8" r="1.85"/><circle cx="295.1" cy="530.8" r="1.85"/><circle cx="308.8" cy="530.8" r="1.85"/><circle cx="322.5" cy="530.8" r="1.85"/><circle cx="336.2" cy="530.8" r="1.85"/><circle cx="349.8" cy="530.8" r="1.85"/><circle cx="363.5" cy="530.8" r="1.85"/><circle cx="377.2" cy="530.8" r="1.85"/><circle cx="390.9" cy="530.8" r="1.85"/><circle cx="404.6" cy="530.8" r="1.85"/><circle cx="418.3" cy="530.8" r="1.85"/><circle cx="432.0" cy="530.8" r="1.85"/><circle cx="445.7" cy="530.8" r="1.85"/><circle cx="459.3" cy="530.8" r="1.85"/><circle cx="473.0" cy="530.8" r="1.85"/><circle cx="486.7" cy="530.8" r="1.85"/><circle cx="500.4" cy="530.8" r="1.85"/><circle cx="514.1" cy="530.8" r="1.85"/><circle cx="527.8" cy="530.8" r="1.85"/><circle cx="541.5" cy="530.8" r="1.85"/><circle cx="555.1" cy="530.8" r="1.85"/><circle cx="568.8" cy="530.8" r="1.85"/><circle cx="582.5" cy="530.8" r="1.85"/><circle cx="596.2" cy="530.8" r="1.85"/></g>
<g stroke="#1e1e1e" stroke-width="1.15"><line x1="162.30" y1="232.3" x2="162.30" y2="535.02"/><line x1="175.99" y1="232.3" x2="175.99" y2="535.02"/><line x1="189.68" y1="232.3" x2="189.68" y2="535.02"/><line x1="203.36" y1="232.3" x2="203.36" y2="535.02"/><line x1="217.05" y1="232.3" x2="217.05" y2="535.02"/><line x1="230.74" y1="232.3" x2="230.74" y2="535.02"/><line x1="244.43" y1="232.3" x2="244.43" y2="535.02"/><line x1="258.11" y1="232.3" x2="258.11" y2="535.02"/><line x1="271.80" y1="232.3" x2="271.80" y2="535.02"/><line x1="285.49" y1="232.3" x2="285.49" y2="535.02"/><line x1="299.18" y1="232.3" x2="299.18" y2="535.02"/><line x1="312.86" y1="232.3" x2="312.86" y2="535.02"/><line x1="326.55" y1="232.3" x2="326.55" y2="535.02"/><line x1="340.24" y1="232.3" x2="340.24" y2="535.02"/><line x1="353.93" y1="232.3" x2="353.93" y2="535.02"/><line x1="367.61" y1="232.3" x2="367.61" y2="535.02"/><line x1="381.30" y1="232.3" x2="381.30" y2="535.02"/><line x1="394.99" y1="232.3" x2="394.99" y2="535.02"/><line x1="408.68" y1="232.3" x2="408.68" y2="535.02"/><line x1="422.36" y1="232.3" x2="422.36" y2="535.02"/><line x1="436.05" y1="232.3" x2="436.05" y2="535.02"/><line x1="449.74" y1="232.3" x2="449.74" y2="535.02"/><line x1="463.43" y1="232.3" x2="463.43" y2="535.02"/><line x1="477.11" y1="232.3" x2="477.11" y2="535.02"/><line x1="490.80" y1="232.3" x2="490.80" y2="535.02"/><line x1="504.49" y1="232.3" x2="504.49" y2="535.02"/><line x1="518.17" y1="232.3" x2="518.17" y2="535.02"/><line x1="531.86" y1="232.3" x2="531.86" y2="535.02"/><line x1="545.55" y1="232.3" x2="545.55" y2="535.02"/><line x1="559.24" y1="232.3" x2="559.24" y2="535.02"/><line x1="572.92" y1="232.3" x2="572.92" y2="535.02"/><line x1="586.61" y1="232.3" x2="586.61" y2="535.02"/><line x1="600.30" y1="232.3" x2="600.30" y2="535.02"/></g>
<g stroke="#1e1e1e" stroke-width="1.15"><line x1="162.3" y1="232.30" x2="600.30" y2="232.30"/><line x1="162.3" y1="246.06" x2="600.30" y2="246.06"/><line x1="162.3" y1="259.82" x2="600.30" y2="259.82"/><line x1="162.3" y1="273.58" x2="600.30" y2="273.58"/><line x1="162.3" y1="287.34" x2="600.30" y2="287.34"/><line x1="162.3" y1="301.10" x2="600.30" y2="301.10"/><line x1="162.3" y1="314.86" x2="600.30" y2="314.86"/><line x1="162.3" y1="328.62" x2="600.30" y2="328.62"/><line x1="162.3" y1="342.38" x2="600.30" y2="342.38"/><line x1="162.3" y1="356.14" x2="600.30" y2="356.14"/><line x1="162.3" y1="369.90" x2="600.30" y2="369.90"/><line x1="162.3" y1="383.66" x2="600.30" y2="383.66"/><line x1="162.3" y1="397.42" x2="600.30" y2="397.42"/><line x1="162.3" y1="411.18" x2="600.30" y2="411.18"/><line x1="162.3" y1="424.94" x2="600.30" y2="424.94"/><line x1="162.3" y1="438.70" x2="600.30" y2="438.70"/><line x1="162.3" y1="452.46" x2="600.30" y2="452.46"/><line x1="162.3" y1="466.22" x2="600.30" y2="466.22"/><line x1="162.3" y1="479.98" x2="600.30" y2="479.98"/><line x1="162.3" y1="493.74" x2="600.30" y2="493.74"/><line x1="162.3" y1="507.50" x2="600.30" y2="507.50"/><line x1="162.3" y1="521.26" x2="600.30" y2="521.26"/><line x1="162.3" y1="535.02" x2="600.30" y2="535.02"/></g>
<rect x="80.4" y="232.4" width="18" height="9.2" rx="1.2" fill="#DADADA" stroke="#555" stroke-width="0.9"/><rect x="80.4" y="247.1" width="18" height="9.2" rx="1.2" fill="#DADADA" stroke="#555" stroke-width="0.9"/><rect x="80.4" y="261.8" width="18" height="9.2" rx="1.2" fill="#DADADA" stroke="#555" stroke-width="0.9"/><rect x="80.4" y="276.5" width="18" height="9.2" rx="1.2" fill="#DADADA" stroke="#555" stroke-width="0.9"/><rect x="80.4" y="291.2" width="18" height="9.2" rx="1.2" fill="#DADADA" stroke="#555" stroke-width="0.9"/><rect x="80.4" y="305.9" width="18" height="9.2" rx="1.2" fill="#DADADA" stroke="#555" stroke-width="0.9"/><rect x="80.4" y="320.6" width="18" height="9.2" rx="1.2" fill="#DADADA" stroke="#555" stroke-width="0.9"/><rect x="80.4" y="335.3" width="18" height="9.2" rx="1.2" fill="#DADADA" stroke="#555" stroke-width="0.9"/><rect x="80.4" y="350.0" width="18" height="9.2" rx="1.2" fill="#DADADA" stroke="#555" stroke-width="0.9"/><rect x="80.4" y="364.7" width="18" height="9.2" rx="1.2" fill="#DADADA" stroke="#555" stroke-width="0.9"/><rect x="80.4" y="379.4" width="18" height="9.2" rx="1.2" fill="#DADADA" stroke="#555" stroke-width="0.9"/><rect x="80.4" y="394.1" width="18" height="9.2" rx="1.2" fill="#9C3B6F" stroke="#555" stroke-width="0.9"/><rect x="80.4" y="408.8" width="18" height="9.2" rx="1.2" fill="#9C3B6F" stroke="#555" stroke-width="0.9"/><rect x="80.4" y="423.5" width="18" height="9.2" rx="1.2" fill="#9C3B6F" stroke="#555" stroke-width="0.9"/><rect x="80.4" y="438.2" width="18" height="9.2" rx="1.2" fill="#9C3B6F" stroke="#555" stroke-width="0.9"/><rect x="80.4" y="452.9" width="18" height="9.2" rx="1.2" fill="#DADADA" stroke="#555" stroke-width="0.9"/><rect x="80.4" y="467.6" width="18" height="9.2" rx="1.2" fill="#DADADA" stroke="#555" stroke-width="0.9"/><rect x="80.4" y="482.3" width="18" height="9.2" rx="1.2" fill="#DADADA" stroke="#555" stroke-width="0.9"/><rect x="80.4" y="497.0" width="18" height="9.2" rx="1.2" fill="#DADADA" stroke="#555" stroke-width="0.9"/><rect x="80.4" y="511.7" width="18" height="9.2" rx="1.2" fill="#DADADA" stroke="#555" stroke-width="0.9"/><rect x="80.4" y="526.4" width="18" height="9.2" rx="1.2" fill="#DADADA" stroke="#555" stroke-width="0.9"/>
<line x1="98.4" y1="398.7" x2="137.6" y2="398.7" stroke="#B0407A" stroke-width="1.2"/>
<line x1="98.4" y1="413.4" x2="137.6" y2="413.4" stroke="#B0407A" stroke-width="1.2"/>
<line x1="98.4" y1="428.1" x2="137.6" y2="428.1" stroke="#B0407A" stroke-width="1.2"/>
<line x1="98.4" y1="442.8" x2="137.6" y2="442.8" stroke="#B0407A" stroke-width="1.2"/>
<rect x="168.4" y="208.3" width="425.3" height="19.1" fill="#DCDCDC" stroke="#555" stroke-width="1"/>
<rect x="138.2" y="243" width="19.4" height="267.3" fill="#DCDCDC" stroke="#555" stroke-width="1"/>
<polyline points="98.4,237.0 105.2,237.0 105.2,201.4 589.3,201.4 589.3,220.6 587,220.6" fill="none" stroke="#444" stroke-width="1"/>
<path d="M105.2,198.5 l-3,7 h6 z" fill="#222"/>
<polyline points="98.4,251.7 111.4,251.7" fill="none" stroke="#444" stroke-width="1"/>
<polyline points="98.4,266.4 111.4,266.4 111.4,209.3 168.4,209.3" fill="none" stroke="#444" stroke-width="1"/>
<polyline points="101,281.1 116.6,281.1 116.6,220.6 170,220.6" fill="none" stroke="#444" stroke-width="1"/>
<path d="M98.6,281.1 l6,-3 v6 z" fill="#222"/>
<polyline points="98.4,310.5 132.3,310.5 132.3,251.9 149,251.9" fill="none" stroke="#444" stroke-width="1"/>
<polyline points="98.4,325.2 141.7,325.2" fill="none" stroke="#444" stroke-width="1"/>
<polyline points="98.4,339.9 141.7,339.9" fill="none" stroke="#444" stroke-width="1"/>
<polyline points="101,354.6 127.4,354.6 127.4,530.3 152.6,530.3 152.6,505" fill="none" stroke="#444" stroke-width="1"/>
<path d="M98.6,354.6 l6,-3 v6 z" fill="#222"/>
<line x1="168.4" y1="220.6" x2="589.3" y2="220.6" stroke="#444" stroke-width="1"/>
<path d="M584.5,220.6 l6,-3.2 v6.4 z" fill="#222"/>
<line x1="181.5" y1="208.3" x2="181.5" y2="215.5" stroke="#555" stroke-width="1"/>
<rect x="174.4" y="215.5" width="14.2" height="8.2" fill="#DCDCDC" stroke="#444" stroke-width="1"/>
<line x1="193.9" y1="220.6" x2="193.9" y2="232.3" stroke="#444" stroke-width="1"/>
<circle cx="193.9" cy="220.6" r="1.9" fill="#222"/>
<line x1="209.2" y1="208.3" x2="209.2" y2="215.5" stroke="#555" stroke-width="1"/>
<rect x="202.1" y="215.5" width="14.2" height="8.2" fill="#DCDCDC" stroke="#444" stroke-width="1"/>
<line x1="221.6" y1="220.6" x2="221.6" y2="232.3" stroke="#444" stroke-width="1"/>
<circle cx="221.6" cy="220.6" r="1.9" fill="#222"/>
<line x1="236.8" y1="208.3" x2="236.8" y2="215.5" stroke="#555" stroke-width="1"/>
<rect x="229.7" y="215.5" width="14.2" height="8.2" fill="#DCDCDC" stroke="#444" stroke-width="1"/>
<line x1="249.2" y1="220.6" x2="249.2" y2="232.3" stroke="#444" stroke-width="1"/>
<circle cx="249.2" cy="220.6" r="1.9" fill="#222"/>
<line x1="264.5" y1="208.3" x2="264.5" y2="215.5" stroke="#555" stroke-width="1"/>
<rect x="257.4" y="215.5" width="14.2" height="8.2" fill="#DCDCDC" stroke="#444" stroke-width="1"/>
<line x1="276.9" y1="220.6" x2="276.9" y2="232.3" stroke="#444" stroke-width="1"/>
<circle cx="276.9" cy="220.6" r="1.9" fill="#222"/>
<line x1="292.1" y1="208.3" x2="292.1" y2="215.5" stroke="#555" stroke-width="1"/>
<rect x="285.0" y="215.5" width="14.2" height="8.2" fill="#DCDCDC" stroke="#444" stroke-width="1"/>
<line x1="304.5" y1="220.6" x2="304.5" y2="232.3" stroke="#444" stroke-width="1"/>
<circle cx="304.5" cy="220.6" r="1.9" fill="#222"/>
<line x1="319.8" y1="208.3" x2="319.8" y2="215.5" stroke="#555" stroke-width="1"/>
<rect x="312.7" y="215.5" width="14.2" height="8.2" fill="#DCDCDC" stroke="#444" stroke-width="1"/>
<line x1="332.2" y1="220.6" x2="332.2" y2="232.3" stroke="#444" stroke-width="1"/>
<circle cx="332.2" cy="220.6" r="1.9" fill="#222"/>
<line x1="347.5" y1="208.3" x2="347.5" y2="215.5" stroke="#555" stroke-width="1"/>
<rect x="340.4" y="215.5" width="14.2" height="8.2" fill="#DCDCDC" stroke="#444" stroke-width="1"/>
<line x1="359.9" y1="220.6" x2="359.9" y2="232.3" stroke="#444" stroke-width="1"/>
<circle cx="359.9" cy="220.6" r="1.9" fill="#222"/>
<line x1="375.1" y1="208.3" x2="375.1" y2="215.5" stroke="#555" stroke-width="1"/>
<rect x="368.0" y="215.5" width="14.2" height="8.2" fill="#DCDCDC" stroke="#444" stroke-width="1"/>
<line x1="387.5" y1="220.6" x2="387.5" y2="232.3" stroke="#444" stroke-width="1"/>
<circle cx="387.5" cy="220.6" r="1.9" fill="#222"/>
<line x1="402.8" y1="208.3" x2="402.8" y2="215.5" stroke="#555" stroke-width="1"/>
<rect x="395.7" y="215.5" width="14.2" height="8.2" fill="#E4480F" stroke="#444" stroke-width="1"/>
<line x1="415.2" y1="220.6" x2="415.2" y2="232.3" stroke="#444" stroke-width="1"/>
<circle cx="415.2" cy="220.6" r="1.9" fill="#222"/>
<line x1="430.4" y1="208.3" x2="430.4" y2="215.5" stroke="#555" stroke-width="1"/>
<rect x="423.3" y="215.5" width="14.2" height="8.2" fill="#DCDCDC" stroke="#444" stroke-width="1"/>
<line x1="442.8" y1="220.6" x2="442.8" y2="232.3" stroke="#444" stroke-width="1"/>
<circle cx="442.8" cy="220.6" r="1.9" fill="#222"/>
<line x1="458.1" y1="208.3" x2="458.1" y2="215.5" stroke="#555" stroke-width="1"/>
<rect x="451.0" y="215.5" width="14.2" height="8.2" fill="#DCDCDC" stroke="#444" stroke-width="1"/>
<line x1="470.5" y1="220.6" x2="470.5" y2="232.3" stroke="#444" stroke-width="1"/>
<circle cx="470.5" cy="220.6" r="1.9" fill="#222"/>
<line x1="485.8" y1="208.3" x2="485.8" y2="215.5" stroke="#555" stroke-width="1"/>
<rect x="478.7" y="215.5" width="14.2" height="8.2" fill="#DCDCDC" stroke="#444" stroke-width="1"/>
<line x1="498.2" y1="220.6" x2="498.2" y2="232.3" stroke="#444" stroke-width="1"/>
<circle cx="498.2" cy="220.6" r="1.9" fill="#222"/>
<line x1="513.4" y1="208.3" x2="513.4" y2="215.5" stroke="#555" stroke-width="1"/>
<rect x="506.3" y="215.5" width="14.2" height="8.2" fill="#DCDCDC" stroke="#444" stroke-width="1"/>
<line x1="525.8" y1="220.6" x2="525.8" y2="232.3" stroke="#444" stroke-width="1"/>
<circle cx="525.8" cy="220.6" r="1.9" fill="#222"/>
<line x1="541.1" y1="208.3" x2="541.1" y2="215.5" stroke="#555" stroke-width="1"/>
<rect x="534.0" y="215.5" width="14.2" height="8.2" fill="#DCDCDC" stroke="#444" stroke-width="1"/>
<line x1="553.5" y1="220.6" x2="553.5" y2="232.3" stroke="#444" stroke-width="1"/>
<circle cx="553.5" cy="220.6" r="1.9" fill="#222"/>
<line x1="568.7" y1="208.3" x2="568.7" y2="215.5" stroke="#555" stroke-width="1"/>
<rect x="561.6" y="215.5" width="14.2" height="8.2" fill="#DCDCDC" stroke="#444" stroke-width="1"/>
<line x1="581.1" y1="220.6" x2="581.1" y2="232.3" stroke="#444" stroke-width="1"/>
<circle cx="581.1" cy="220.6" r="1.9" fill="#222"/>
<polyline points="149,251.9 152.4,251.9 152.4,505.6" fill="none" stroke="#444" stroke-width="1"/>
<path d="M152.5,251.9 l-6,-3.2 v6.4 z" fill="#222"/>
<line x1="141.7" y1="270.4" x2="141.7" y2="493.1" stroke="#555" stroke-width="1"/>
<line x1="141.7" y1="270.5" x2="147.1" y2="270.5" stroke="#555" stroke-width="1"/>
<rect x="147.1" y="263.1" width="8.3" height="14" fill="#DCDCDC" stroke="#444" stroke-width="1"/>
<line x1="152.6" y1="282.5" x2="162.3" y2="282.5" stroke="#444" stroke-width="1"/>
<circle cx="152.6" cy="282.5" r="1.9" fill="#222"/>
<line x1="141.7" y1="298.4" x2="147.1" y2="298.4" stroke="#555" stroke-width="1"/>
<rect x="147.1" y="291.0" width="8.3" height="14" fill="#DCDCDC" stroke="#444" stroke-width="1"/>
<line x1="152.6" y1="310.4" x2="162.3" y2="310.4" stroke="#444" stroke-width="1"/>
<circle cx="152.6" cy="310.4" r="1.9" fill="#222"/>
<line x1="141.7" y1="326.2" x2="147.1" y2="326.2" stroke="#555" stroke-width="1"/>
<rect x="147.1" y="318.8" width="8.3" height="14" fill="#DCDCDC" stroke="#444" stroke-width="1"/>
<line x1="152.6" y1="338.2" x2="162.3" y2="338.2" stroke="#444" stroke-width="1"/>
<circle cx="152.6" cy="338.2" r="1.9" fill="#222"/>
<line x1="141.7" y1="354.1" x2="147.1" y2="354.1" stroke="#555" stroke-width="1"/>
<rect x="147.1" y="346.7" width="8.3" height="14" fill="#DCDCDC" stroke="#444" stroke-width="1"/>
<line x1="152.6" y1="366.1" x2="162.3" y2="366.1" stroke="#444" stroke-width="1"/>
<circle cx="152.6" cy="366.1" r="1.9" fill="#222"/>
<line x1="141.7" y1="381.9" x2="147.1" y2="381.9" stroke="#555" stroke-width="1"/>
<rect x="147.1" y="374.5" width="8.3" height="14" fill="#DCDCDC" stroke="#444" stroke-width="1"/>
<line x1="152.6" y1="393.9" x2="162.3" y2="393.9" stroke="#444" stroke-width="1"/>
<circle cx="152.6" cy="393.9" r="1.9" fill="#222"/>
<line x1="141.7" y1="409.8" x2="147.1" y2="409.8" stroke="#555" stroke-width="1"/>
<rect x="147.1" y="402.4" width="8.3" height="14" fill="#E4480F" stroke="#444" stroke-width="1"/>
<line x1="152.6" y1="421.8" x2="162.3" y2="421.8" stroke="#444" stroke-width="1"/>
<circle cx="152.6" cy="421.8" r="1.9" fill="#222"/>
<line x1="141.7" y1="437.6" x2="147.1" y2="437.6" stroke="#555" stroke-width="1"/>
<rect x="147.1" y="430.2" width="8.3" height="14" fill="#DCDCDC" stroke="#444" stroke-width="1"/>
<line x1="152.6" y1="449.6" x2="162.3" y2="449.6" stroke="#444" stroke-width="1"/>
<circle cx="152.6" cy="449.6" r="1.9" fill="#222"/>
<line x1="141.7" y1="465.5" x2="147.1" y2="465.5" stroke="#555" stroke-width="1"/>
<rect x="147.1" y="458.1" width="8.3" height="14" fill="#DCDCDC" stroke="#444" stroke-width="1"/>
<line x1="152.6" y1="477.5" x2="162.3" y2="477.5" stroke="#444" stroke-width="1"/>
<circle cx="152.6" cy="477.5" r="1.9" fill="#222"/>
<line x1="141.7" y1="493.3" x2="147.1" y2="493.3" stroke="#555" stroke-width="1"/>
<rect x="147.1" y="485.9" width="8.3" height="14" fill="#DCDCDC" stroke="#444" stroke-width="1"/>
<line x1="152.6" y1="505.3" x2="162.3" y2="505.3" stroke="#444" stroke-width="1"/>
<circle cx="152.6" cy="505.3" r="1.9" fill="#222"/>
<circle cx="141.7" cy="325.2" r="1.7" fill="#222"/>
<circle cx="141.7" cy="339.9" r="1.7" fill="#222"/>
<line x1="162.3" y1="411.6" x2="381.4" y2="411.6" stroke="#6E5062" stroke-width="1.4"/>
<line x1="159" y1="414.3" x2="381.4" y2="414.3" stroke="#D8A0C4" stroke-width="1"/>
<line x1="159" y1="417.3" x2="381.4" y2="417.3" stroke="#C888B0" stroke-width="1"/>
<line x1="154" y1="421.8" x2="600.3" y2="421.8" stroke="#F8D0B8" stroke-width="4"/>
<rect x="381.4" y="411.2" width="14.2" height="13.5" fill="#9B3570"/>
<line x1="154" y1="421.8" x2="600.3" y2="421.8" stroke="#E2521E" stroke-width="2.1" opacity="0.9"/>
<g fill="none" stroke="#444" stroke-width="1.0"><circle cx="171.9" cy="420.7" r="1.85"/><circle cx="185.6" cy="420.7" r="1.85"/><circle cx="199.3" cy="420.7" r="1.85"/><circle cx="213.0" cy="420.7" r="1.85"/><circle cx="226.7" cy="420.7" r="1.85"/><circle cx="240.3" cy="420.7" r="1.85"/><circle cx="254.0" cy="420.7" r="1.85"/><circle cx="267.7" cy="420.7" r="1.85"/><circle cx="281.4" cy="420.7" r="1.85"/><circle cx="295.1" cy="420.7" r="1.85"/><circle cx="308.8" cy="420.7" r="1.85"/><circle cx="322.5" cy="420.7" r="1.85"/><circle cx="336.2" cy="420.7" r="1.85"/><circle cx="349.8" cy="420.7" r="1.85"/><circle cx="363.5" cy="420.7" r="1.85"/><circle cx="377.2" cy="420.7" r="1.85"/><circle cx="404.6" cy="420.7" r="1.85"/><circle cx="418.3" cy="420.7" r="1.85"/><circle cx="432.0" cy="420.7" r="1.85"/><circle cx="445.7" cy="420.7" r="1.85"/><circle cx="459.3" cy="420.7" r="1.85"/><circle cx="473.0" cy="420.7" r="1.85"/><circle cx="486.7" cy="420.7" r="1.85"/><circle cx="500.4" cy="420.7" r="1.85"/><circle cx="514.1" cy="420.7" r="1.85"/><circle cx="527.8" cy="420.7" r="1.85"/><circle cx="541.5" cy="420.7" r="1.85"/><circle cx="555.1" cy="420.7" r="1.85"/><circle cx="568.8" cy="420.7" r="1.85"/><circle cx="582.5" cy="420.7" r="1.85"/><circle cx="596.2" cy="420.7" r="1.85"/></g>
<line x1="387.4" y1="220.6" x2="387.4" y2="537.5" stroke="#E2521E" stroke-width="2.6"/>
<rect x="397.6" y="247.7" width="62.5" height="25.1" rx="2" fill="#999" opacity="0.5"/>
<rect x="396.1" y="246.2" width="62.5" height="25.1" rx="2" fill="#DCDCDC" stroke="#666" stroke-width="1"/>
<text x="402" y="263" font-size="15.3" fill="#222" font-weight="normal" font-style="italic" text-anchor="start" >Rowsel</text>
<rect x="173.7" y="431.3" width="56.2" height="23.4" rx="2" fill="#999" opacity="0.5"/>
<rect x="172.2" y="429.8" width="56.2" height="23.4" rx="2" fill="#DCDCDC" stroke="#666" stroke-width="1"/>
<text x="180.5" y="446.2" font-size="15.3" fill="#222" font-weight="normal" font-style="italic" text-anchor="start" >Colsel</text>
<rect x="198.2" y="335.1" width="291.5" height="31.8" rx="2" fill="#999" opacity="0.5"/>
<rect x="196.7" y="333.6" width="291.5" height="31.8" rx="2" fill="#DCDCDC" stroke="#666" stroke-width="1"/>
<text x="204.5" y="356.5" font-size="17.6" fill="#222" font-weight="bold" font-style="normal" text-anchor="start" >PILATUS II Chip: 60 cols, 97 rows</text>
<text x="46" y="406" font-size="11.5" fill="#222" font-weight="normal" font-style="normal" text-anchor="start" >DIN</text>
<text x="46" y="419.7" font-size="11.5" fill="#222" font-weight="normal" font-style="normal" text-anchor="start" >DOUT</text>
<text x="46" y="432.3" font-size="11.5" fill="#222" font-weight="normal" font-style="normal" text-anchor="start" >DCAL</text>
<text x="46" y="445.6" font-size="11.5" fill="#222" font-weight="normal" font-style="normal" text-anchor="start" >AOUT</text>
<text x="44.6" y="476.6" font-size="11.5" fill="#222" font-weight="normal" font-style="normal" text-anchor="start" >ENA</text>
<text x="44.6" y="490.2" font-size="11.5" fill="#222" font-weight="normal" font-style="normal" text-anchor="start" >DCLK</text>
<text x="40" y="521.2" font-size="11.5" fill="#222" font-weight="normal" font-style="normal" text-anchor="start" >CHSEL</text>
<text transform="translate(63.5,236) rotate(90)" font-size="11.5" fill="#222">Row</text>
<text transform="translate(49.5,235) rotate(90)" font-size="11.5" fill="#222">selection</text>
<text transform="translate(63.5,309.5) rotate(90)" font-size="11.5" fill="#222">Coloumn</text>
<text transform="translate(49.5,309.5) rotate(90)" font-size="11.5" fill="#222">selection</text>
<line x1="397.4" y1="409.5" x2="969.4" y2="448" stroke="#000" stroke-width="1.3"/>
<line x1="381.8" y1="423.9" x2="414.2" y2="702" stroke="#000" stroke-width="1.3"/>
<rect x="417.5" y="447.4" width="551.9" height="256.8" fill="#fff" stroke="#707070" stroke-width="1.1"/>
<text x="635" y="464.6" font-size="15.8" fill="#111" font-weight="bold" font-style="normal" text-anchor="start" >PILATUS II Pixel Cell</text>
<polyline points="905.1,510.3 905.1,467.4 460.4,467.4 460.4,512 466,512" fill="none" stroke="#333" stroke-width="1"/>
<path d="M471.5,512 l-5,-2.8 v5.6 z" fill="#222"/>
<rect x="471.5" y="476.9" width="78.4" height="41.1" fill="#fff" stroke="#444" stroke-width="1"/>
<text x="480" y="493" font-size="14.6" fill="#222" font-weight="normal" font-style="italic" text-anchor="start" >6 Bit Latch</text>
<text x="480" y="509" font-size="14.6" fill="#222" font-weight="normal" font-style="italic" text-anchor="start" >+ DAC</text>
<polyline points="549.9,489.2 581.2,489.2 581.2,505 604.4,505" fill="none" stroke="#333" stroke-width="1"/>
<path d="M604.4,492.7 L604.4,563 L661.3,527.9 Z" fill="#fff" stroke="#333" stroke-width="1"/>
<text x="609" y="512" font-size="13.5" fill="#222" font-weight="normal" font-style="normal" text-anchor="start" >-</text>
<text x="606.5" y="533" font-size="14.3" fill="#222" font-weight="normal" font-style="italic" text-anchor="start" >Comp</text>
<text x="610" y="548.5" font-size="17" fill="#222" font-weight="normal" font-style="normal" text-anchor="start" >+</text>
<text x="539.5" y="528" font-size="14.7" fill="#222" font-weight="normal" font-style="italic" text-anchor="start" >Global</text>
<text x="539.5" y="544" font-size="14.7" fill="#222" font-weight="normal" font-style="italic" text-anchor="start" >Tresh</text>
<line x1="581" y1="519" x2="604.4" y2="519" fill="none" stroke="#333" stroke-width="1"/>
<line x1="661.3" y1="527.9" x2="668" y2="527.9" fill="none" stroke="#333" stroke-width="1"/>
<path d="M672.3,527.9 l-5,-2.8 v5.6 z" fill="#222"/>
<rect x="672.3" y="511.4" width="53.5" height="30.6" fill="#fff" stroke="#444" stroke-width="1"/>
<text x="675.5" y="524" font-size="14.6" fill="#222" font-weight="normal" font-style="italic" text-anchor="start" >Pulse</text>
<text x="675.5" y="540" font-size="14.6" fill="#222" font-weight="normal" font-style="italic" text-anchor="start" >Shaper</text>
<line x1="725.8" y1="530.7" x2="738" y2="530.7" fill="none" stroke="#333" stroke-width="1"/>
<path d="M742.6,530.7 l-5,-2.8 v5.6 z" fill="#222"/>
<path d="M742.6,519.1 L759.5,526.1 L759.5,550.8 L742.6,558.5 Z" fill="#fff" stroke="#333" stroke-width="1"/>
<text x="739" y="503" font-size="11.5" fill="#555" font-weight="normal" font-style="normal" text-anchor="start" >Pixsel</text>
<line x1="754.2" y1="508" x2="754.2" y2="520" fill="none" stroke="#333" stroke-width="1"/>
<path d="M754.2,524.5 l-2.5,-5 h5.0 z" fill="#222"/>
<polyline points="675.8,668.5 675.8,552.5 736,552.5" fill="none" stroke="#111" stroke-width="2.25"/>
<path d="M743,552.5 l-8,-4.5 v9.0 z" fill="#111"/>
<line x1="759.5" y1="538.5" x2="767" y2="538.5" fill="none" stroke="#333" stroke-width="1"/>
<path d="M770.8,538.5 l-4,-2.2 v4.4 z" fill="#222"/>
<rect x="770.8" y="527.2" width="27.4" height="24.6" fill="#fff" stroke="#444" stroke-width="1"/>
<text x="785.5" y="538" font-size="8" fill="#222" font-weight="normal" font-style="normal" text-anchor="middle" >ϕ<tspan font-size='5' dy='1'>1</tspan><tspan dy='-1'>-ϕ</tspan><tspan font-size='5' dy='1'>2</tspan></text>
<text x="785.5" y="549" font-size="9.5" fill="#222" font-weight="normal" font-style="normal" text-anchor="middle" >Gen</text>
<line x1="798.2" y1="535.6" x2="806" y2="535.6" fill="none" stroke="#333" stroke-width="1"/>
<path d="M810.5,535.6 l-4.5,-2.5 v5.0 z" fill="#222"/>
<line x1="798.2" y1="542.7" x2="806" y2="542.7" fill="none" stroke="#333" stroke-width="1"/>
<path d="M810.5,542.7 l-4.5,-2.5 v5.0 z" fill="#222"/>
<rect x="810.5" y="500.5" width="76.3" height="70.7" fill="#fff" stroke="#444" stroke-width="1"/>
<text x="848.6" y="510" font-size="8" fill="#222" font-weight="normal" font-style="normal" text-anchor="middle" >CNT/RO</text>
<text x="823.5" y="533" font-size="14.0" fill="#222" font-weight="normal" font-style="italic" text-anchor="start" >20 bit</text>
<text x="823.5" y="549.5" font-size="14.0" fill="#222" font-weight="normal" font-style="italic" text-anchor="start" >Counter</text>
<text x="829" y="484" font-size="11.5" fill="#555" font-weight="normal" font-style="normal" text-anchor="start" >Pixsel</text>
<line x1="843.5" y1="488" x2="843.5" y2="496" fill="none" stroke="#333" stroke-width="1"/>
<path d="M843.5,500.5 l-2.5,-5 h5.0 z" fill="#222"/>
<line x1="886.8" y1="510.3" x2="905.1" y2="510.3" fill="none" stroke="#333" stroke-width="1"/>
<line x1="762" y1="562.4" x2="806" y2="562.4" fill="none" stroke="#333" stroke-width="1"/>
<path d="M810.5,562.4 l-5,-2.8 v5.6 z" fill="#222"/>
<polyline points="733.8,562.4 744.4,562.4 759.5,577.8" fill="none" stroke="#333" stroke-width="1"/>
<line x1="750.7" y1="583" x2="750.7" y2="574" fill="none" stroke="#333" stroke-width="1"/>
<path d="M750.7,570.5 l-2,4 h4 z" fill="#222"/>
<text x="746" y="596" font-size="11.5" fill="#555" font-weight="normal" font-style="normal" text-anchor="start" >Pixsel</text>
<line x1="734.5" y1="670.3" x2="734.5" y2="572" fill="none" stroke="#111" stroke-width="2.25"/>
<path d="M734.5,564.8 l-4.8,9 h9.6 z" fill="#111"/>
<polyline points="886.8,530.7 900.9,530.7 912.5,545.5" fill="none" stroke="#333" stroke-width="1"/>
<line x1="916.7" y1="530.7" x2="949" y2="530.7" fill="none" stroke="#333" stroke-width="1"/>
<line x1="949" y1="471" x2="949" y2="662" fill="none" stroke="#111" stroke-width="2.25"/>
<path d="M949,670.3 l-4.8,-9 h9.6 z" fill="#111"/>
<rect x="837.6" y="620.4" width="25.6" height="40.1" fill="#fff" stroke="#444" stroke-width="1"/>
<text x="851" y="647.5" font-size="17.5" fill="#222" font-weight="normal" font-style="normal" text-anchor="middle" >&amp;</text>
<polyline points="863.2,639.4 907.9,639.4 907.9,550" fill="none" stroke="#333" stroke-width="1"/>
<path d="M907.9,544.5 l-3,6 h6 z" fill="#222"/>
<text x="765.5" y="635.5" font-size="11.5" fill="#555" font-weight="normal" font-style="normal" text-anchor="start" >Rowsel</text>
<line x1="811.2" y1="631" x2="830" y2="631" fill="none" stroke="#111" stroke-width="2.25"/>
<path d="M837.6,631 l-8,-4.5 v9.0 z" fill="#111"/>
<polyline points="810.5,675.6 810.5,652.7 830,652.7" fill="none" stroke="#111" stroke-width="2.25"/>
<path d="M837.6,652.7 l-8,-4.5 v9.0 z" fill="#111"/>
<text x="872.7" y="654" font-size="11.5" fill="#555" font-weight="normal" font-style="normal" text-anchor="start" >Pixsel</text>
<text x="431" y="692" font-size="12" fill="#222" font-weight="normal" font-style="normal" text-anchor="start" >CAL</text>
<text x="594" y="692" font-size="12" fill="#222" font-weight="normal" font-style="normal" text-anchor="start" >AOUT</text>
<text x="638.5" y="692" font-size="12" fill="#222" font-weight="normal" font-style="normal" text-anchor="start" >ENA</text>
<text x="674.3" y="692" font-size="12" fill="#222" font-weight="normal" font-style="normal" text-anchor="start" >DCLK</text>
<text x="722.6" y="692" font-size="12" fill="#222" font-weight="normal" font-style="normal" text-anchor="start" >DIN</text>
<text x="788.3" y="692" font-size="12" fill="#555" font-weight="normal" font-style="normal" text-anchor="start" >Colsel</text>
<text x="925.5" y="692" font-size="12" fill="#222" font-weight="normal" font-style="normal" text-anchor="start" >DOUT</text>
<line x1="651.8" y1="668.5" x2="651.8" y2="543" fill="none" stroke="#111" stroke-width="2.25"/>
<path d="M651.8,535 l-4.8,9 h9.6 z" fill="#111"/>
<line x1="617.4" y1="570" x2="617.4" y2="664" fill="none" stroke="#111" stroke-width="2.25"/>
<path d="M617.4,672 l-4.8,-9 h9.6 z" fill="#111"/>
<path d="M501.4,543.7 L501.4,614.7 L557.6,579.5 Z" fill="#fff" stroke="#333" stroke-width="1"/>
<text x="507.7" y="575.5" font-size="14.0" fill="#222" font-weight="normal" font-style="italic" text-anchor="start" >CS</text>
<text x="507.5" y="590" font-size="14.0" fill="#222" font-weight="normal" font-style="italic" text-anchor="start" >Amp</text>
<text x="453.5" y="549.5" font-size="14.2" fill="#222" font-weight="normal" font-style="italic" text-anchor="start" >Bump</text>
<text x="453.5" y="565.5" font-size="14.2" fill="#222" font-weight="normal" font-style="italic" text-anchor="start" >Pad</text>
<rect x="458.2" y="571.8" width="15.1" height="15.2" fill="#3D3A5A"/>
<line x1="473.3" y1="579.5" x2="501.4" y2="579.5" fill="none" stroke="#333" stroke-width="1"/>
<polyline points="484.9,579.5 484.9,620" fill="none" stroke="#333" stroke-width="1"/>
<line x1="477" y1="620" x2="493" y2="620" stroke="#333" stroke-width="1.2"/>
<line x1="477" y1="626.3" x2="493" y2="626.3" stroke="#333" stroke-width="1.2"/>
<polyline points="484.9,626.3 484.9,653.3 470.8,653.3" fill="none" stroke="#333" stroke-width="1"/>
<polyline points="441,653.3 459.9,653.3 470.8,657.7" fill="none" stroke="#333" stroke-width="1"/>
<line x1="465.5" y1="668" x2="465.5" y2="661" fill="none" stroke="#333" stroke-width="1"/>
<path d="M465.5,657.5 l-2,4 h4 z" fill="#222"/>
<text x="497.9" y="631" font-size="12" fill="#222" font-weight="normal" font-style="normal" text-anchor="start" >1.6fF</text>
<text x="449.7" y="680" font-size="11.5" fill="#555" font-weight="normal" font-style="normal" text-anchor="start" >Pixsel</text>
<line x1="441" y1="675.5" x2="441" y2="613" fill="none" stroke="#111" stroke-width="2.25"/>
<path d="M441,605.2 l-4.8,9 h9.6 z" fill="#111"/>
<polyline points="557.6,579.5 582.2,579.5 598.8,594.7" fill="none" stroke="#333" stroke-width="1"/>
<polyline points="573.4,579.5 573.4,545.4 604.4,545.4" fill="none" stroke="#333" stroke-width="1"/>
<line x1="601.6" y1="579.5" x2="617.4" y2="579.5" fill="none" stroke="#333" stroke-width="1"/>
<line x1="589.3" y1="598" x2="589.3" y2="591" fill="none" stroke="#333" stroke-width="1"/>
<path d="M589.3,587.5 l-2,4 h4 z" fill="#222"/>
<text x="563.6" y="609" font-size="11.5" fill="#555" font-weight="normal" font-style="normal" text-anchor="start" >Pixsel</text>
</svg>
</body></html>
